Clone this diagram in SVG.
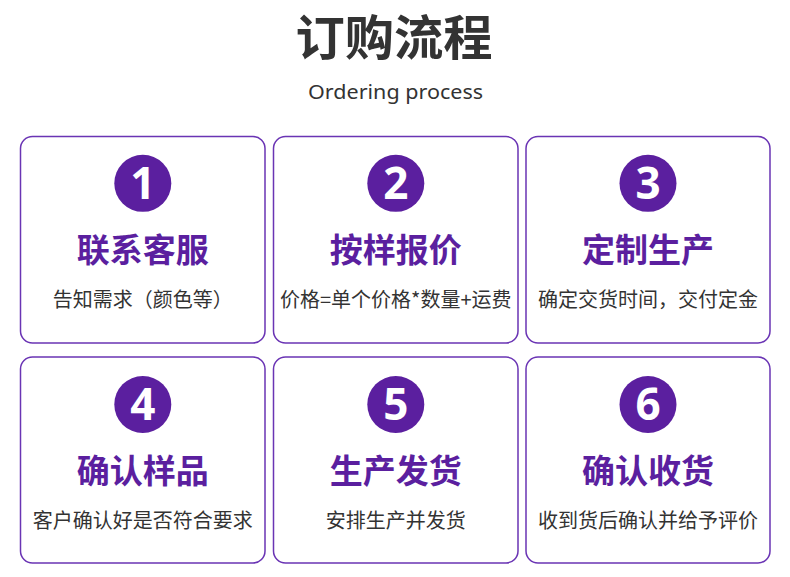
<svg xmlns="http://www.w3.org/2000/svg" width="790" height="577" viewBox="0 0 790 577">
<style>
.card{fill:#ffffff;stroke:#6a34b4;stroke-width:1.5}
.dot{fill:#5b1f9f}
.num{font-family:"Noto Sans","Noto Sans CJK SC",sans-serif;font-weight:bold;font-size:44px;fill:#ffffff;text-anchor:middle}
.ttl{font-family:"Noto Sans CJK SC",sans-serif;font-weight:bold;font-size:33px;fill:#5b1f9f;text-anchor:middle}
.sub{font-family:"Noto Sans CJK SC",sans-serif;font-size:20px;fill:#333333;text-anchor:middle}
</style>
<rect width="790" height="577" fill="#ffffff"/>
<text x="394" y="55" font-family="'Noto Sans CJK SC',sans-serif" font-weight="bold" font-size="48" fill="#333333" text-anchor="middle" textLength="197" lengthAdjust="spacingAndGlyphs">订购流程</text>
<text x="395.5" y="99" font-family="'Noto Sans','Open Sans',sans-serif" font-size="20" fill="#333333" text-anchor="middle" textLength="175" lengthAdjust="spacingAndGlyphs">Ordering process</text>

<g id="step1">
<rect class="card" x="20.5" y="136.5" width="244.5" height="206.5" rx="12"/>
<circle class="dot" cx="142.8" cy="183.3" r="28.5"/>
<text class="num" x="142.8" y="199">1</text>
<text class="ttl" x="142.8" y="262">联系客服</text>
<text class="sub" x="142.8" y="307">告知需求（颜色等）</text>
</g>
<g id="step2">
<rect class="card" x="273.5" y="136.5" width="244.5" height="206.5" rx="12"/>
<circle class="dot" cx="395.8" cy="183.3" r="28.5"/>
<text class="num" x="395.8" y="199">2</text>
<text class="ttl" x="395.8" y="262">按样报价</text>
<text class="sub" x="395.8" y="307">价格=单个价格*数量+运费</text>
</g>
<g id="step3">
<rect class="card" x="526" y="136.5" width="244" height="206.5" rx="12"/>
<circle class="dot" cx="648" cy="183.3" r="28.5"/>
<text class="num" x="648" y="199">3</text>
<text class="ttl" x="648" y="262">定制生产</text>
<text class="sub" x="648" y="307">确定交货时间，交付定金</text>
</g>
<g id="step4">
<rect class="card" x="20.5" y="357" width="244.5" height="206" rx="12"/>
<circle class="dot" cx="142.8" cy="404.5" r="28.5"/>
<text class="num" x="142.8" y="420">4</text>
<text class="ttl" x="142.8" y="483">确认样品</text>
<text class="sub" x="142.8" y="528">客户确认好是否符合要求</text>
</g>
<g id="step5">
<rect class="card" x="273.5" y="357" width="244.5" height="206" rx="12"/>
<circle class="dot" cx="395.8" cy="404.5" r="28.5"/>
<text class="num" x="395.8" y="420">5</text>
<text class="ttl" x="395.8" y="483">生产发货</text>
<text class="sub" x="395.8" y="528">安排生产并发货</text>
</g>
<g id="step6">
<rect class="card" x="526" y="357" width="244" height="206" rx="12"/>
<circle class="dot" cx="648" cy="404.5" r="28.5"/>
<text class="num" x="648" y="420">6</text>
<text class="ttl" x="648" y="483">确认收货</text>
<text class="sub" x="648" y="528">收到货后确认并给予评价</text>
</g>
<g id="connectors"></g>
</svg>
